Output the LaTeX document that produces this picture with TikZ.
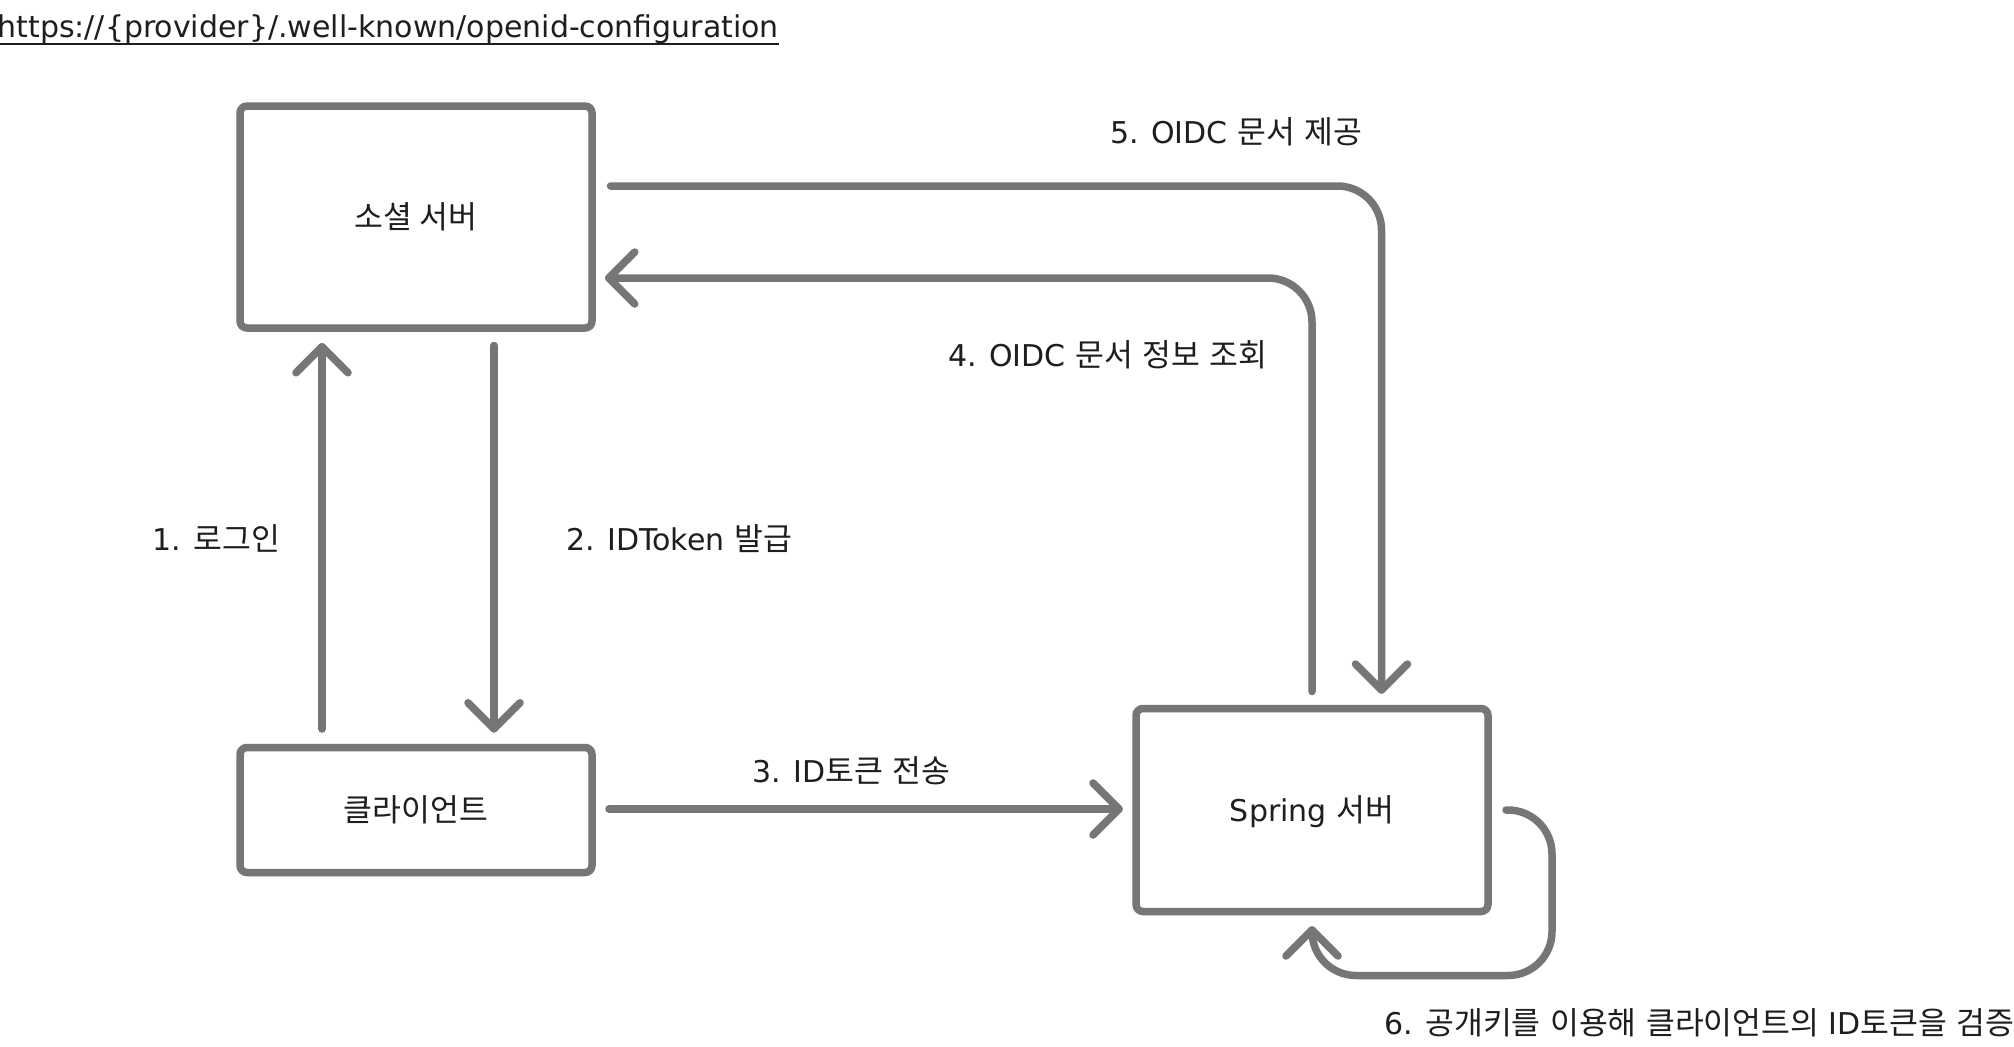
\documentclass[tikz,border=0pt]{standalone}
\usepackage{fontspec}
\setmainfont{DejaVu Sans}
\newfontfamily\kr{Noto Sans CJK KR}[Scale=1.045]
\usetikzlibrary{calc}
\definecolor{ln}{HTML}{767676}
\definecolor{tx}{HTML}{1E1E1E}
\tikzset{
  box/.style={draw=ln, line width=7.5pt, rounded corners=7pt, fill=white, outer sep=0pt, inner sep=0pt,
    minimum width=352pt, text height=22pt, text depth=0pt, text=tx, font=\fontsize{30}{36}\selectfont},
  lnk/.style={draw=ln, line width=7.5pt, line cap=round, line join=round},
  lbl/.style={anchor=base west, inner sep=0pt, outer sep=0pt, text=tx, font=\fontsize{30}{36}\selectfont},
}
\newcommand\arhead[3]{\draw[lnk] ($(#1)+(#2)$) -- (#1) -- ($(#1)+(#3)$);}
\begin{document}
\begin{tikzpicture}[x=1pt,y=-1pt]
\useasboundingbox (0,0) rectangle (2014,1047);
\fill[white] (0,0) rectangle (2014,1047);

% URL
\node[lbl, font=\fontsize{30}{36}\selectfont] (url) at (-2.5,37) {https://\{provider\}/.well-known/openid-configuration};
\draw[tx, line width=2pt] ($(url.base west)+(0,6.5)$) -- ($(url.base east)+(0,6.5)$);

% boxes
\node[box, minimum height=222pt] (social) at (416,217) {{\kr 소셜 서버}};
\node[box, minimum height=125pt] (client) at (416,810) {{\kr 클라이언트}};
\node[box, minimum height=203pt] (spring) at (1312,810) {Spring {\kr 서버}};

% labels
\node[lbl] (l5) at (1110,143) {5. OIDC {\kr 문서} {\kr 제공}};
\node[lbl] (l4) at (948,366) {4. OIDC {\kr 문서} {\kr 정보} {\kr 조회}};
\node[lbl] (l1) at (152,550) {1. {\kr 로그인}};
\node[lbl] (l2) at (566,550) {2. IDToken {\kr 발급}};
\node[lbl] (l3) at (752,782) {3. ID{\kr 토큰} {\kr 전송}};
\node[lbl] (l6) at (1384,1034) {6. {\kr 공개키를} {\kr 이용해} {\kr 클라이언트의} ID{\kr 토큰을} {\kr 검증}};

% 1. login
\coordinate (a1s) at ($(client.north)+(-94,-18.5)$);
\coordinate (a1e) at ($(social.south)+(-94,18.75)$);
\draw[lnk] (a1s) -- (a1e); \arhead{a1e}{-26,26}{26,26}
% 2. IDToken
\coordinate (a2s) at ($(social.south)+(78,17.5)$);
\coordinate (a2e) at ($(client.north)+(78,-18.75)$);
\draw[lnk] (a2s) -- (a2e); \arhead{a2e}{-26,-26}{26,-26}
% 3. ID token send
\coordinate (a3s) at ($(client.east)+(17,-1)$);
\coordinate (a3e) at ($(spring.west)+(-17,-1)$);
\draw[lnk] (a3s) -- (a3e); \arhead{a3e}{-26,-26}{-26,26}
% 4. OIDC doc request
\coordinate (a4s) at ($(spring.north)+(0,-17)$);
\coordinate (a4e) at ($(social.east)+(16.75,61)$);
\draw[lnk, rounded corners=44pt] (a4s) |- (a4e); \arhead{a4e}{26,-26}{26,26}
% 5. OIDC doc provide
\coordinate (a5s) at ($(social.east)+(18.5,-31)$);
\coordinate (a5e) at ($(spring.north)+(69.5,-18.5)$);
\draw[lnk, rounded corners=44pt] (a5s) -| (a5e); \arhead{a5e}{-26,-26}{26,-26}
% 6. self loop
\coordinate (a6s) at ($(spring.east)+(18,0)$);
\coordinate (a6e) at ($(spring.south)+(0,18.5)$);
\coordinate (a6c) at ($(spring.south east)+(64,64)$);
\draw[lnk, rounded corners=44pt] (a6s) -| (a6c) -| (a6e); \arhead{a6e}{-26,26}{26,26}
\end{tikzpicture}
\end{document}
